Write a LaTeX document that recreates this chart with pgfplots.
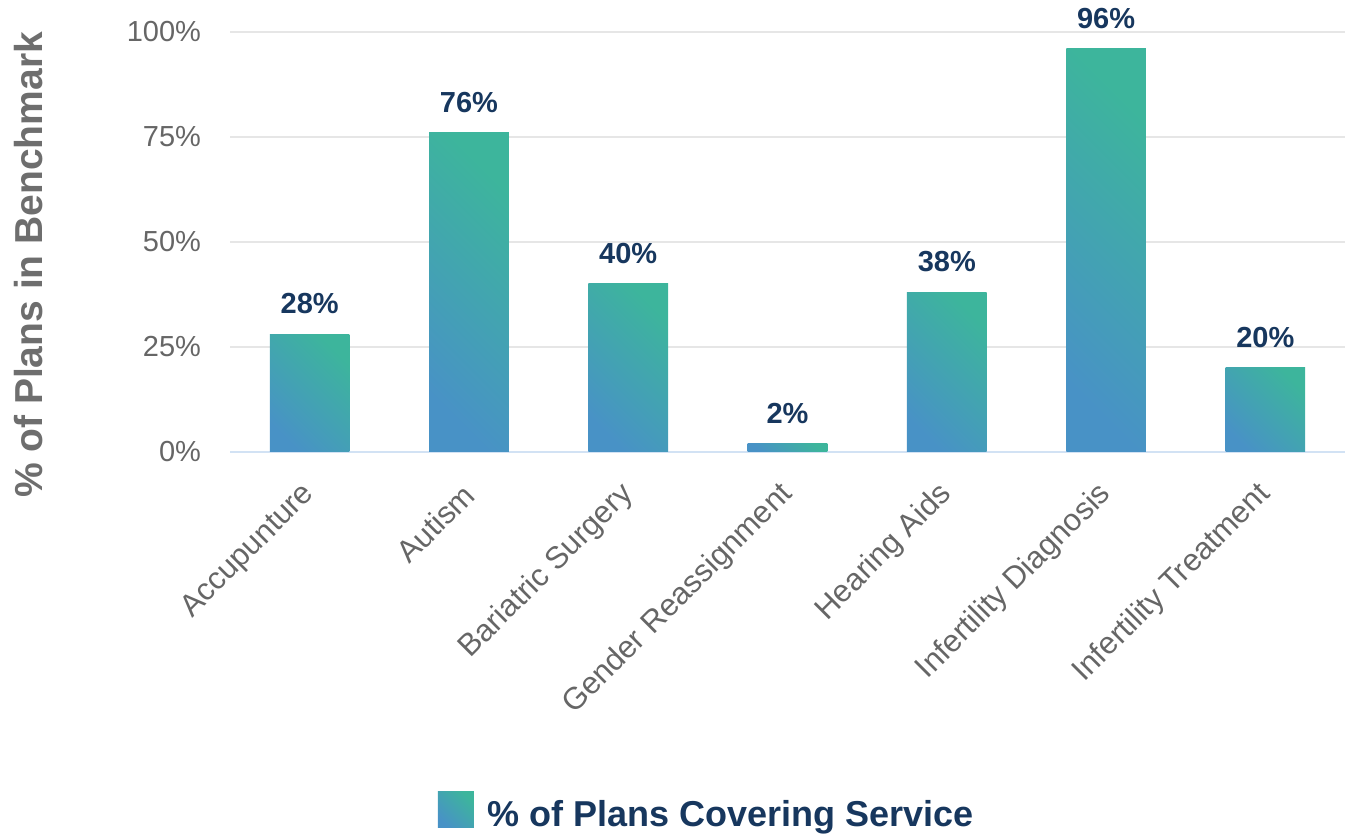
\documentclass[border=0pt]{standalone}
\usepackage{pgfplots}
\pgfplotsset{compat=1.18}
\usepackage{fontspec}
\setmainfont{Liberation Sans}
\definecolor{barblue}{HTML}{4892C6}
\definecolor{bargreen}{HTML}{3DB59C}
\definecolor{navy}{HTML}{17375E}
\definecolor{tickgray}{HTML}{666666}
\definecolor{labelgray}{HTML}{6E6E6E}
\definecolor{gridgray}{HTML}{E6E6E6}
\definecolor{baseblue}{HTML}{D2E2F4}
\pgfplotsset{
  gbar/.style={ybar, bar width=0.5, bar shift=0pt, draw=none,
    bottom color=barblue, top color=bargreen, shading angle=-45,
    nodes near coords={\pgfmathprintnumber{\pgfplotspointmeta}\%},
    every node near coord/.append style={font=\fontsize{14.5}{16}\selectfont\bfseries,
      text=navy, yshift=6.5pt}},
}
\begin{document}
\begin{tikzpicture}
\begin{axis}[
  scale only axis, width=557.5pt, height=210pt,
  xmin=-0.5, xmax=6.5, ymin=0, ymax=100,
  clip=false,
  xtick={0,...,6},
  xticklabels={Accupunture, Autism, Bariatric Surgery, Gender Reassignment, Hearing Aids, Infertility Diagnosis, Infertility Treatment},
  ytick={0,25,50,75,100},
  yticklabel={\pgfmathprintnumber{\tick}\%},
  /pgf/number format/assume math mode=true,
  major tick length=0pt,
  ymajorgrids, grid style={draw=gridgray, line width=0.8pt},
  axis x line*=bottom, axis y line*=left,
  x axis line style={draw=baseblue, line width=1pt},
  y axis line style={draw=none},
  tick label style={font=\fontsize{14.5}{16}\selectfont, text=tickgray},
  yticklabel style={xshift=-11pt},
  xticklabel style={xshift=2.6pt, yshift=-16.5pt, rotate=45, anchor=east,
    font=\fontsize{15.5}{17}\selectfont},
  ylabel={\% of Plans in Benchmark},
  every axis y label/.style={at={(rel axis cs:-0.181,0.445)}, rotate=90, anchor=center,
    font=\fontsize{19.5}{22}\selectfont\bfseries, text=labelgray},
  legend style={at={(rel axis cs:0.186,-0.808)}, anchor=north west, draw=none,
    font=\fontsize{18}{20}\selectfont\bfseries, text=navy, inner sep=0pt},
  legend image code/.code={\shade[bottom color=barblue, top color=bargreen, shading angle=-45]
    (0pt,-6.5pt) rectangle (18pt,11.5pt); \path (23pt,0pt);},
]
\addplot[gbar] coordinates {(0,28)};
\addlegendentry{\% of Plans Covering Service}
\addplot[gbar, forget plot] coordinates {(1,76)};
\addplot[gbar, forget plot] coordinates {(2,40)};
\addplot[gbar, forget plot] coordinates {(3,2)};
\addplot[gbar, forget plot] coordinates {(4,38)};
\addplot[gbar, forget plot] coordinates {(5,96)};
\addplot[gbar, forget plot] coordinates {(6,20)};
\path (rel axis cs:-0.2063,-0.907) (rel axis cs:1.0036,1.076);
\end{axis}
\end{tikzpicture}
\end{document}
